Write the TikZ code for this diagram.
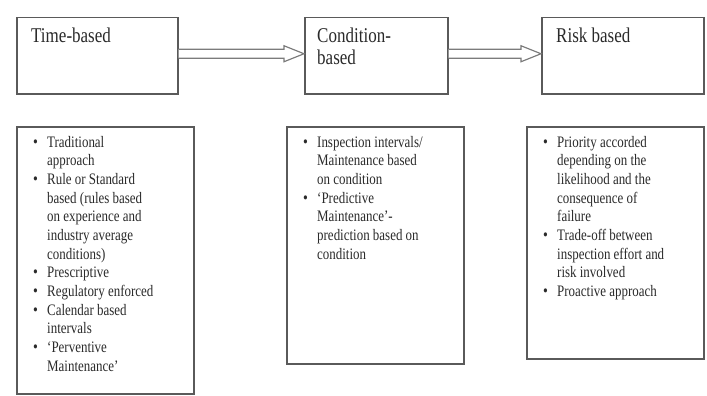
\documentclass[tikz,border=0pt]{standalone}
\usepackage{fontspec}
\setmainfont[FakeStretch=0.81]{Liberation Serif}
\usetikzlibrary{calc}
\definecolor{edge}{HTML}{5A5A5A}
\definecolor{ink}{HTML}{2A2A2A}
\newcommand{\blt}{{\fontsize{17}{17}\selectfont\textbullet}}
\newcommand{\blockarrow}[2]{%
  \draw[arr] ($(#1.east)+(0,2.5)$) -- ($(#2.west)+(-20,2.5)$) -- ($(#2.west)+(-20,6)$)
    -- ($(#2.west)+(0,-2)$) -- ($(#2.west)+(-20,-10)$) -- ($(#2.west)+(-20,-6.5)$) -- ($(#1.east)+(0,-6.5)$);}
\begin{document}
\begin{tikzpicture}[x=1pt,y=-1pt,
  box/.style={draw=edge, line width=1.5pt, rectangle, anchor=north west, inner sep=0pt},
  title/.style={anchor=base west, inner sep=0pt, text=ink, font=\fontsize{21}{22}\selectfont},
  list/.style={anchor=north west, inner sep=0pt, text=ink, font=\fontsize{16}{18.67}\selectfont},
  arr/.style={draw=edge!80, line width=1.2pt, fill=white, line join=miter}]
\useasboundingbox[fill=white] (0,0) rectangle (707,396);
% top boxes
\node[box, minimum width=161pt, minimum height=76pt] (t1) at (16,17) {};
\node[box, minimum width=143pt, minimum height=76pt] (t2) at (304,17) {};
\node[box, minimum width=162pt, minimum height=76pt] (t3) at (541,17) {};
\node[title] (tt1) at (31,43) {Time-based};
\node[title] (tt2) at (317,43) {\begin{tabular}[t]{@{}l@{}}Condition-\\based\end{tabular}};
\node[title] (tt3) at (556,43) {Risk based};
% arrows
\blockarrow{t1}{t2}
\blockarrow{t2}{t3}
% detail boxes
\node[box, minimum width=177pt, minimum height=267pt] (d1) at (16,126) {};
\node[box, minimum width=177pt, minimum height=237pt] (d2) at (286,126) {};
\node[box, minimum width=177pt, minimum height=232pt] (d3) at (526,126) {};
\node[list] (l1) at (33,134) {\begin{tabular}{@{}p{14pt}@{}l@{}}
\blt & Traditional\\
 & approach\\
\blt & Rule or Standard\\
 & based (rules based\\
 & on experience and\\
 & industry average\\
 & conditions)\\
\blt & Prescriptive\\
\blt & Regulatory enforced\\
\blt & Calendar based\\
 & intervals\\
\blt & ‘Perventive\\
 & Maintenance’
\end{tabular}};
\node[list] (l2) at (303,134) {\begin{tabular}{@{}p{14pt}@{}l@{}}
\blt & Inspection intervals/\\
 & Maintenance based\\
 & on condition\\
\blt & ‘Predictive\\
 & Maintenance’-\\
 & prediction based on\\
 & condition
\end{tabular}};
\node[list] (l3) at (543,134) {\begin{tabular}{@{}p{14pt}@{}l@{}}
\blt & Priority accorded\\
 & depending on the\\
 & likelihood and the\\
 & consequence of\\
 & failure\\
\blt & Trade-off between\\
 & inspection effort and\\
 & risk involved\\
\blt & Proactive approach
\end{tabular}};
\end{tikzpicture}
\end{document}
